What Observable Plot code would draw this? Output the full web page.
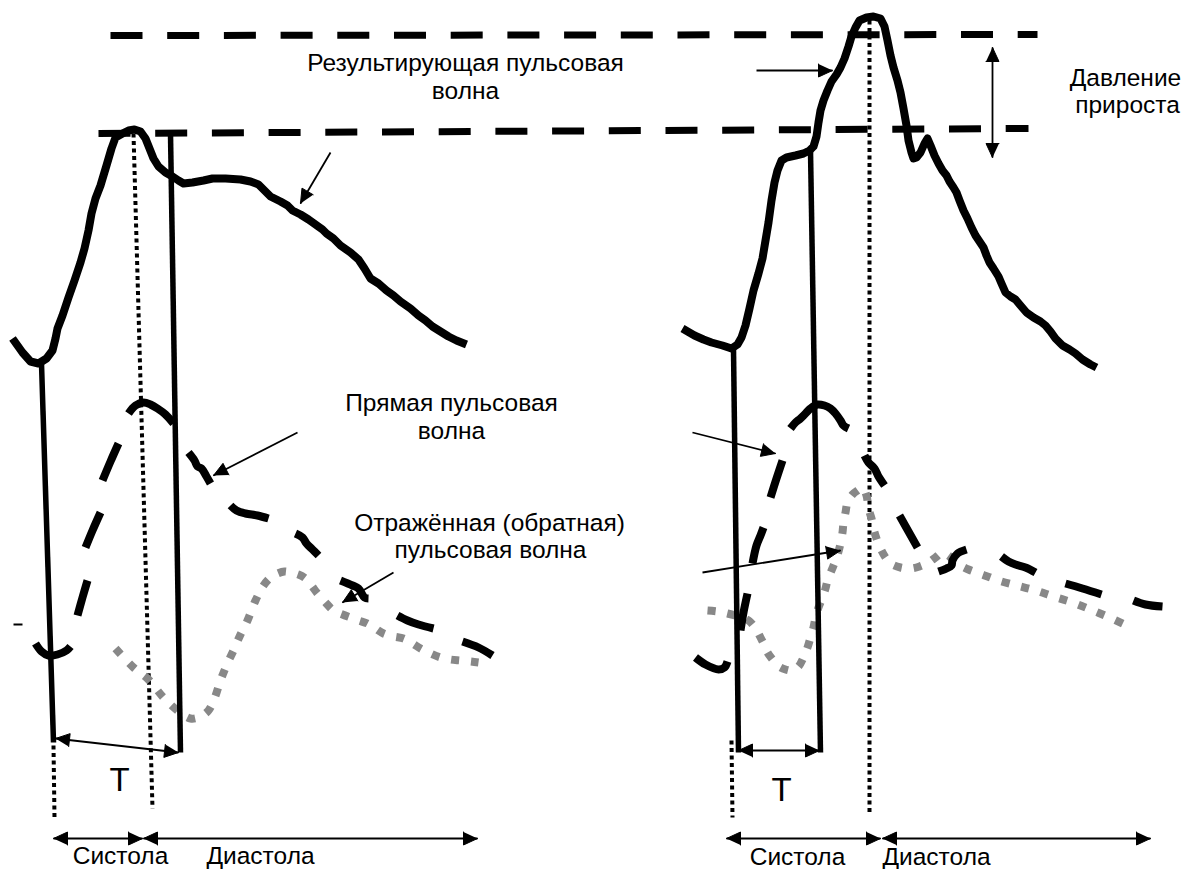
<!DOCTYPE html>
<html><head><meta charset="utf-8">
<script src="https://cdn.jsdelivr.net/npm/d3@7"></script>
<script src="https://cdn.jsdelivr.net/npm/@observablehq/plot@0.6"></script>
<style>html,body{margin:0;padding:0;background:#fff;} #chart svg{display:block}</style>
</head><body><div id="chart"></div>
<script>
// ---- Data (diagram units: horizontal time-like position, vertical pressure-like position, top = high) ----
const resultLeft = [[12,338],[22,352],[30,361],[38,363],[46,358],[52,350],[55,338],[57,328],[62,315],[68,297],[74,280],[80,262],[84,248],[88,230],[91,213],[95,198],[100,185],[106,165],[111,148],[115,137],[122,133],[128,130],[134,129],[140,131],[145,138],[149,148],[153,158],[158,166],[165,172],[172,176],[178,180],[183,183],[192,182],[203,180],[212,178],[225,178],[240,179],[250,181],[258,184],[264,190],[270,196],[280,201],[287,205],[292,210],[300,214],[308,219],[315,224],[322,229],[326,233],[333,238],[340,245],[350,252],[358,259],[364,268],[370,278],[378,283],[386,290],[393,295],[400,301],[410,308],[418,315],[425,320],[432,326],[440,331],[448,336],[456,340],[466,344]];
const resultRight = [[682,328],[694,335],[703,339],[711,342],[722,345],[731,348],[737,344],[741,337],[745,325],[749,308],[753,290],[758,273],[762,258],[765,240],[768,222],[771,200],[774,182],[777,170],[781,160],[786,157],[795,155],[803,153],[809,150],[813,146],[816,136],[818,122],[820,110],[823,100],[827,90],[831,81],[836,74],[840,67],[844,58],[848,46],[851,36],[855,27],[859,20],[866,17],[873,16],[880,18],[884,26],[887,40],[890,55],[893,67],[897,80],[900,92],[903,108],[906,125],[908,140],[911,152],[913,158],[916,157],[920,152],[924,143],[927,138],[930,145],[934,155],[938,163],[942,170],[946,175],[949,181],[953,187],[956,192],[959,200],[963,210],[967,218],[971,227],[975,235],[979,241],[983,247],[986,255],[989,262],[993,268],[998,276],[1001,283],[1005,292],[1010,296],[1015,299],[1020,305],[1026,312],[1033,317],[1040,321],[1045,325],[1050,331],[1055,338],[1062,345],[1069,349],[1075,353],[1082,359],[1090,364],[1096,367]];

// forward (direct) wave, drawn as hand-made dash pieces
const directLeft = [
  [[35,643],[41,651],[48,655],[57,654],[66,650],[70,646]],
  [[77,615],[82,597],[87,580]],
  [[85,547],[92,530],[100,512]],
  [[102,480],[110,461],[118,443]],
  [[128,413],[135,405],[143,402],[150,404],[157,408],[165,414],[173,423]],
  [[188,452],[194,460],[197,466],[201,468],[206,476],[210,483]],
  [[230,505],[236,510],[245,513],[257,515],[268,518]],
  [[295,533],[302,537],[306,543],[312,549],[318,555]],
  [[340,580],[352,585],[358,588],[364,597],[368,598]],
  [[397,615],[407,620],[418,624],[433,628]],
  [[462,641],[478,647],[492,655]]
];
const directRight = [
  [[695,657],[705,664],[718,669],[724,667],[727,661]],
  [[740,630],[743,612],[747,593]],
  [[752,563],[756,545],[760,535],[763,527]],
  [[770,497],[776,478],[782,460]],
  [[790,428],[795,422],[800,418],[805,413],[810,408],[817,404],[824,405],[830,408],[835,413],[840,420],[843,425],[848,428]],
  [[864,455],[868,462],[874,468],[878,476],[884,485]],
  [[899,515],[908,531],[917,547]],
  [[938,571],[946,568],[951,565],[952,560],[957,553],[966,549]],
  [[1001,556],[1008,561],[1015,564],[1025,567],[1035,572]],
  [[1065,583],[1082,588],[1101,594]],
  [[1133,600],[1145,604],[1162,606]]
];

// reflected (backward) wave
const reflectedLeft = [[115,648],[133,667],[147,678],[163,697],[177,710],[190,718],[200,716],[208,710],[214,698],[220,680],[226,665],[233,650],[240,634],[247,620],[255,600],[263,585],[270,577],[277,573],[284,571],[290,572],[298,574],[305,578],[311,585],[317,593],[325,602],[333,610],[342,614],[350,617],[358,620],[367,623],[375,628],[383,633],[393,636],[403,638],[412,643],[420,648],[430,653],[440,657],[450,659],[460,660],[470,661],[478,662]];
const reflectedRight = [[707,610],[717,611],[727,613],[738,616],[748,620],[755,628],[760,637],[764,645],[767,652],[772,659],[777,665],[785,669],[792,670],[798,666],[803,657],[807,647],[810,637],[813,627],[815,617],[818,607],[822,597],[825,588],[827,580],[831,570],[835,560],[838,551],[840,543],[842,532],[843,522],[845,512],[847,502],[852,494],[857,490],[862,487],[866,495],[868,508],[871,518],[873,528],[876,538],[880,548],[885,557],[890,563],[900,567],[910,568],[919,566],[928,562],[935,557],[942,552],[948,555],[953,560],[960,565],[968,569],[976,572],[987,576],[998,580],[1016,585],[1035,590],[1053,596],[1072,602],[1090,609],[1109,617],[1126,625]];

// reference levels (dashed): peak of the left wave, peak of the right wave
const levelLow = [[98,133],[1028,128]];
const levelHigh = [[110,35],[1037,34]];

// vertical markers
const solidVerticals = [
  {x1:41,y1:363,x2:53,y2:742},
  {x1:170,y1:133,x2:180,y2:752},
  {x1:733,y1:348,x2:738,y2:752},
  {x1:810,y1:150,x2:820,y2:752}
];
const dottedVerticals = [
  {x1:133,y1:133,x2:152,y2:808},
  {x1:53,y1:745,x2:54,y2:817},
  {x1:869,y1:20,x2:869,y2:813},
  {x1:731,y1:740,x2:732,y2:817}
];

// arrows (from -> to); both = head at both ends
const arrows = [
  {x1:330,y1:152,x2:300,y2:203,both:false},
  {x1:756,y1:70,x2:832,y2:70,both:false},
  {x1:992,y1:47,x2:992,y2:157,both:true},
  {x1:297,y1:432,x2:213,y2:475,both:false},
  {x1:393,y1:572,x2:342,y2:602,both:false},
  {x1:692,y1:432,x2:775,y2:453,both:false},
  {x1:702,y1:572,x2:840,y2:550,both:false},
  {x1:55,y1:738,x2:178,y2:752,both:true},
  {x1:738,y1:750,x2:819,y2:750,both:true},
  {x1:53,y1:838,x2:142,y2:838,both:true},
  {x1:143,y1:838,x2:477,y2:838,both:true},
  {x1:726,y1:838,x2:880,y2:838,both:true},
  {x1:882,y1:838,x2:1150,y2:838,both:true}
];

const labelText = ["Результирующая пульсовая","волна","Давление","прироста","Прямая пульсовая","волна","Отражённая (обратная)","пульсовая волна","Систола","Диастола","Систола","Диастола"];
const labelX = [465,465,1125,1127,451,451,489,490,120,260,797,936];
const labelY = [70,98,85,112,410,438,530,557,863,863,864,864];
const periodText = ["T","T"];
const periodX = [119,781];
const periodY = [790,800];
const strayMark = [[13,624],[22,624]];

// ---- Build tables ----
const pts = (arr, id) => arr.map(([x,y]) => ({x, y, id}));
const resultPts = [...pts(resultLeft,"L"), ...pts(resultRight,"R")];
const directPts = [...directLeft.flatMap((s,i)=>pts(s,"L"+i)), ...directRight.flatMap((s,i)=>pts(s,"R"+i))];
const reflectedPts = [...pts(reflectedLeft,"L"), ...pts(reflectedRight,"R")];
const levelPts = [...pts(levelLow,"low"), ...pts(levelHigh,"high")];
const labels = labelText.map((t,i)=>({text:t, x:labelX[i], y:labelY[i]}));
const periods = periodText.map((t,i)=>({text:t, x:periodX[i], y:periodY[i]}));

// arrowheads as filled triangles
const HEAD_L = 14, HEAD_W = 6.5;
function head(tx,ty,fx,fy,id){
  const dx = tx-fx, dy = ty-fy, len = Math.hypot(dx,dy);
  const ux = dx/len, uy = dy/len, bx = tx-HEAD_L*ux, by = ty-HEAD_L*uy;
  return [{x:tx,y:ty,id},{x:bx-HEAD_W*uy,y:by+HEAD_W*ux,id},{x:bx+HEAD_W*uy,y:by-HEAD_W*ux,id}];
}
const heads = arrows.flatMap((a,i)=>[
  ...head(a.x2,a.y2,a.x1,a.y1,"e"+i),
  ...(a.both ? head(a.x1,a.y1,a.x2,a.y2,"s"+i) : [])
]);

const W = 1187, H = 869;
const chart = Plot.plot({
  width: W, height: H,
  margin: 0,
  x: {domain:[0,W], range:[0,W], axis:null},
  y: {domain:[0,H], range:[0,H], axis:null},
  style: {fontFamily:"'Liberation Sans', Arial, Helvetica, sans-serif", background:"#fff", color:"#000"},
  marks: [
    Plot.link(dottedVerticals, {x1:"x1",y1:"y1",x2:"x2",y2:"y2", stroke:"black", strokeWidth:4, strokeDasharray:"4,3.5", strokeLinecap:"butt"}),
    Plot.line(levelPts, {x:"x", y:"y", z:"id", stroke:"black", strokeWidth:7, strokeDasharray:"32,24.7", strokeLinecap:"butt"}),
    Plot.line(reflectedPts, {x:"x", y:"y", z:"id", stroke:"#888", strokeWidth:8, strokeDasharray:"8,12", strokeLinecap:"butt", curve:"catmull-rom"}),
    Plot.line(directPts, {x:"x", y:"y", z:"id", stroke:"black", strokeWidth:8, strokeLinecap:"butt", curve:"catmull-rom"}),
    Plot.line(resultPts, {x:"x", y:"y", z:"id", stroke:"black", strokeWidth:8, strokeLinecap:"butt", strokeLinejoin:"round"}),
    Plot.link(solidVerticals, {x1:"x1",y1:"y1",x2:"x2",y2:"y2", stroke:"black", strokeWidth:5.5, strokeLinecap:"butt"}),
    Plot.line(pts(strayMark,"m"), {x:"x", y:"y", stroke:"black", strokeWidth:2, strokeLinecap:"butt"}),
    Plot.link(arrows, {x1:"x1",y1:"y1",x2:"x2",y2:"y2", stroke:"black", strokeWidth:1.8}),
    Plot.line(heads, {x:"x", y:"y", z:"id", fill:"black", stroke:"black", strokeWidth:1, strokeLinejoin:"miter"}),
    Plot.text(labels, {x:"x", y:"y", text:"text", fontSize:24.5, textAnchor:"middle", lineAnchor:"bottom", fill:"black"}),
    Plot.text(periods, {x:"x", y:"y", text:"text", fontSize:33, textAnchor:"middle", lineAnchor:"bottom", fill:"black"})
  ]
});
document.getElementById("chart").appendChild(chart);
</script></body></html>
